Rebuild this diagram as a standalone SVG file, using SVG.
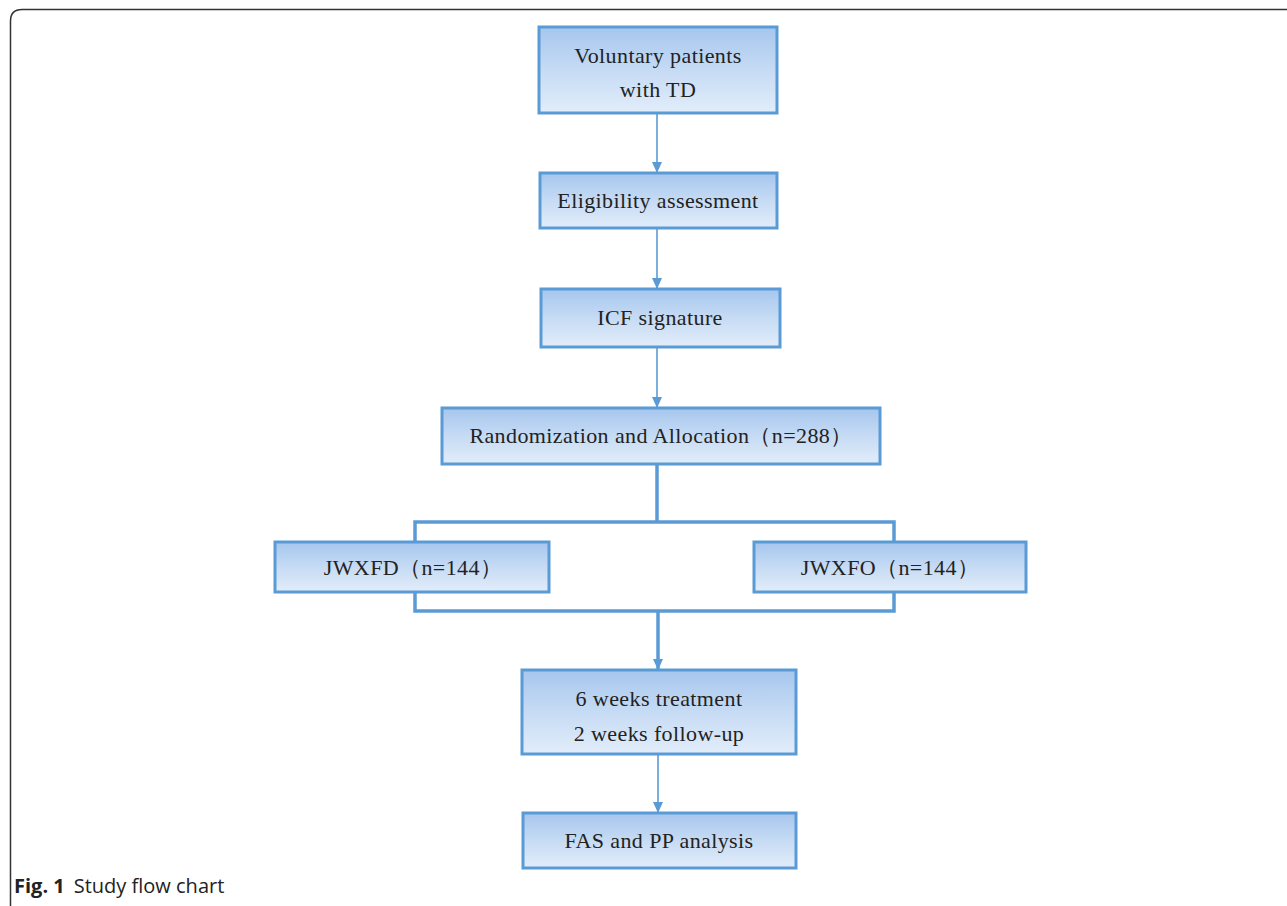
<svg xmlns="http://www.w3.org/2000/svg" width="1287" height="906" viewBox="0 0 1287 906">
<defs>
<linearGradient id="g" x1="0" y1="0" x2="0" y2="1">
<stop offset="0" stop-color="#a6c6ee"/>
<stop offset="0.5" stop-color="#c6dbf4"/>
<stop offset="1" stop-color="#e2edfa"/>
</linearGradient>
<marker id="ah" markerWidth="11" markerHeight="10" refX="10" refY="5" orient="auto" markerUnits="userSpaceOnUse" viewBox="0 0 11 10">
<path d="M0,0 L11,5 L0,10 Z" fill="#5b9bd5"/>
</marker>
</defs>
<style>
.box{fill:url(#g);stroke:#5b9bd5;stroke-width:3}
.t{font-family:"Liberation Serif",serif;font-size:22px;letter-spacing:0.4px;fill:#222;text-anchor:middle}
.thin{stroke:#5b9bd5;stroke-width:1.6;fill:none}
.thick{stroke:#5b9bd5;stroke-width:3.5;fill:none}
</style>
<rect width="1287" height="906" fill="#fff"/>
<path d="M1287,9.5 L22,9.5 Q10.5,9.5 10.5,21 L10.5,906" fill="none" stroke="#333" stroke-width="1.5"/>
<g id="connectors">
<line class="thin" x1="657" y1="113" x2="657" y2="172" marker-end="url(#ah)"/>
<line class="thin" x1="657" y1="228" x2="657" y2="288" marker-end="url(#ah)"/>
<line class="thin" x1="657" y1="347" x2="657" y2="407" marker-end="url(#ah)"/>
<line class="thick" x1="657" y1="464" x2="657" y2="522"/>
<polyline class="thick" points="415,542 415,522 894,522 894,542"/>
<polyline class="thick" points="415,592 415,611 894,611 894,592"/>
<line class="thick" x1="658" y1="611" x2="658" y2="669" marker-end="url(#ah)"/>
<line class="thin" x1="658" y1="754" x2="658" y2="812" marker-end="url(#ah)"/>
</g>
<g id="n1"><rect class="box" x="539" y="27" width="238" height="86"/><text class="t" x="658" y="63">Voluntary patients</text><text class="t" x="658" y="97">with TD</text></g>
<g id="n2"><rect class="box" x="540" y="173" width="237" height="55"/><text class="t" x="658" y="208">Eligibility assessment</text></g>
<g id="n3"><rect class="box" x="541" y="289" width="239" height="58"/><text class="t" x="660" y="325">ICF signature</text></g>
<g id="n4"><rect class="box" x="442" y="408" width="438" height="56"/><text class="t" x="661" y="443">Randomization and Allocation（n=288）</text></g>
<g id="n5"><rect class="box" x="275" y="542" width="274" height="50"/><text class="t" x="413" y="575">JWXFD（n=144）</text></g>
<g id="n6"><rect class="box" x="754" y="542" width="272" height="50"/><text class="t" x="890" y="575">JWXFO（n=144）</text></g>
<g id="n7"><rect class="box" x="522" y="670" width="274" height="84"/><text class="t" x="659" y="706">6 weeks treatment</text><text class="t" x="659" y="741">2 weeks follow-up</text></g>
<g id="n8"><rect class="box" x="523" y="813" width="273" height="55"/><text class="t" x="659" y="848">FAS and PP analysis</text></g>
<text x="14" y="893" font-family="'Open Sans',sans-serif" font-size="20" fill="#222"><tspan font-weight="bold">Fig. 1</tspan><tspan dx="9">Study flow chart</tspan></text>
</svg>
